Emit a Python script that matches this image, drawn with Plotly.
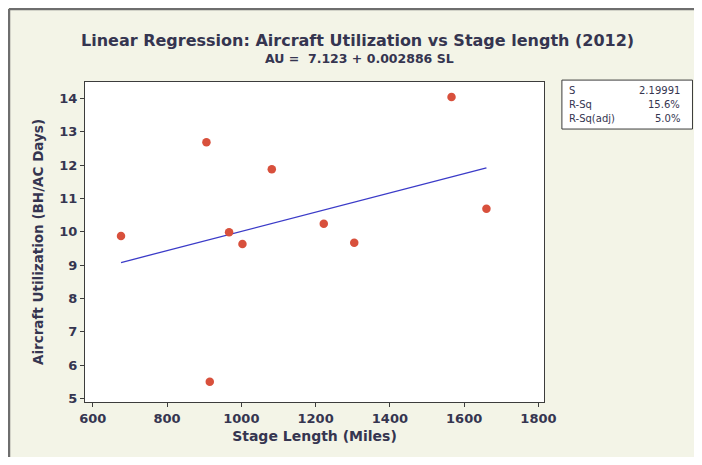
import plotly.graph_objects as go

# Stage length (miles) vs aircraft utilization (BH/AC days), 2012
stage_length = [676, 906, 915, 967, 1003, 1082, 1222, 1304, 1566, 1660]
utilization = [9.87, 12.68, 5.50, 9.98, 9.63, 11.87, 10.24, 9.67, 14.04, 10.69]

# fitted model AU = b0 + b1 * SL
b0 = 7.123
b1 = 0.002886
stat_names = ["S", "R-Sq", "R-Sq(adj)"]
stat_values = ["2.19991", "15.6%", "5.0%"]

x_ticks = [600, 800, 1000, 1200, 1400, 1600, 1800]
y_ticks = [5, 6, 7, 8, 9, 10, 11, 12, 13, 14]

FONT = "DejaVu Sans, sans-serif"
TXT = "#353550"

fit_x = [min(stage_length), max(stage_length)]
fit_y = [b0 + b1 * v for v in fit_x]

fig = go.Figure()
fig.add_trace(go.Scatter(x=fit_x, y=fit_y, mode="lines",
                         line=dict(color="#3b3bc8", width=1.3),
                         hoverinfo="skip"))
fig.add_trace(go.Scatter(x=stage_length, y=utilization, mode="markers",
                         marker=dict(color="#d8503c", size=8.5)))

axis_common = dict(showgrid=False, zeroline=False, showline=True, mirror=True,
                   linecolor="#3c3c3c", linewidth=1, ticks="outside", ticklen=4,
                   tickcolor="#3c3c3c",
                   tickfont=dict(family=FONT, size=13, color=TXT, weight="bold"))

# page body keeps an 8px margin on every side, so the figure fits inside it
fig.update_layout(
    width=686, height=449,
    margin=dict(l=77, r=150, t=74, b=55),
    paper_bgcolor="#f3f4e7",
    plot_bgcolor="#ffffff",
    showlegend=False,
    font=dict(family=FONT, color=TXT),
    xaxis=dict(range=[579, 1815], tickvals=x_ticks,
               title=dict(text="Stage Length (Miles)", standoff=6,
                          font=dict(family=FONT, size=14, color=TXT, weight="bold")),
               **axis_common),
    yaxis=dict(range=[4.89, 14.49], tickvals=y_ticks,
               title=dict(text="Aircraft Utilization (BH/AC Days)", standoff=12,
                          font=dict(family=FONT, size=13.5, color=TXT, weight="bold")),
               **axis_common),
)

# titles
fig.add_annotation(text="<b>Linear Regression: Aircraft Utilization vs Stage length (2012)</b>",
                   xref="paper", yref="paper", x=0.593, y=1.13, showarrow=False,
                   xanchor="center", yanchor="middle",
                   font=dict(family=FONT, size=16, color=TXT))
fig.add_annotation(text="<b>AU =  %.3f + %.6f SL</b>" % (b0, b1),
                   xref="paper", yref="paper", x=0.599, y=1.075, showarrow=False,
                   xanchor="center", yanchor="middle",
                   font=dict(family=FONT, size=12.5, color=TXT))

# stats box
fig.add_shape(type="rect", xref="paper", yref="paper",
              x0=1.039, x1=1.3235, y0=0.853, y1=1.006,
              line=dict(color="#3c3c3c", width=1), fillcolor="#ffffff")
for i, (name, val) in enumerate(zip(stat_names, stat_values)):
    yy = 0.975 - i * 0.044
    fig.add_annotation(text=name, xref="paper", yref="paper", x=1.050, y=yy,
                       xanchor="left", yanchor="middle", showarrow=False,
                       font=dict(family=FONT, size=10, color=TXT))
    fig.add_annotation(text=val, xref="paper", yref="paper", x=1.301, y=yy,
                       xanchor="right", yanchor="middle", showarrow=False,
                       font=dict(family=FONT, size=10, color=TXT))

# outer frame of the graph window (only top and left edges are in view)
frame = dict(color="#6e6e6e", width=2.5)
fig.add_shape(type="line", xref="paper", yref="paper",
              x0=-0.1656, x1=1.6, y0=1.228, y1=1.228, line=frame)
fig.add_shape(type="line", xref="paper", yref="paper",
              x0=-0.1656, x1=-0.1656, y0=-0.6, y1=1.228, line=frame)

fig.write_html("out.html")
